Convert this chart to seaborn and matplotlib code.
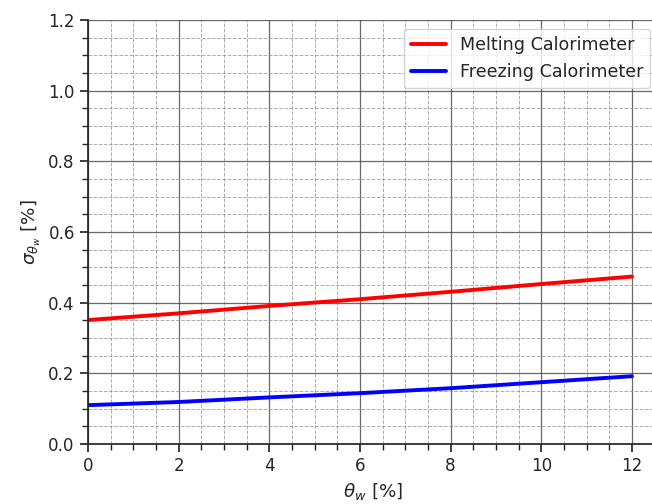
import numpy as np
import pandas as pd
import seaborn as sns
import matplotlib
matplotlib.use("Agg")
import matplotlib.pyplot as plt

# water content (%) and uncertainty
theta_w = [0, 2, 4, 6, 8, 10, 12]
sigma_melting = [0.351, 0.370, 0.391, 0.410, 0.431, 0.453, 0.474]
sigma_freezing = [0.110, 0.119, 0.132, 0.144, 0.158, 0.175, 0.192]

df = pd.DataFrame({
    'theta': theta_w * 2,
    'sigma': sigma_melting + sigma_freezing,
    'Calorimeter': ['Melting Calorimeter'] * len(theta_w) + ['Freezing Calorimeter'] * len(theta_w),
})

sns.set_theme(style='ticks', context='notebook', font_scale=1.1)

fig = plt.figure(figsize=(6.52, 5.04), dpi=100)
ax = fig.add_axes([0.135, 0.119, 0.876, 0.841])

sns.lineplot(data=df, x='theta', y='sigma', hue='Calorimeter',
             palette={'Melting Calorimeter': 'red', 'Freezing Calorimeter': 'blue'},
             linewidth=2.8, ax=ax)

ax.set_xlim(0, 12.6)
ax.set_ylim(0, 1.2)
ax.set_xticks([0, 2, 4, 6, 8, 10, 12])
ax.minorticks_on()
ax.grid(which='major', color='#444444', linestyle='-', linewidth=0.9, alpha=0.8)
ax.grid(which='minor', color='#888888', linestyle='--', linewidth=0.7, alpha=0.7)
ax.set_axisbelow(True)
sns.despine(ax=ax)

ax.set_xlabel(r'$\theta_w$ [%]')
ax.set_ylabel(r'$\sigma_{\theta_w}$ [%]')
ax.legend(title=None, loc='upper right', fontsize=12.6)

fig.savefig('out.png', dpi=100)
